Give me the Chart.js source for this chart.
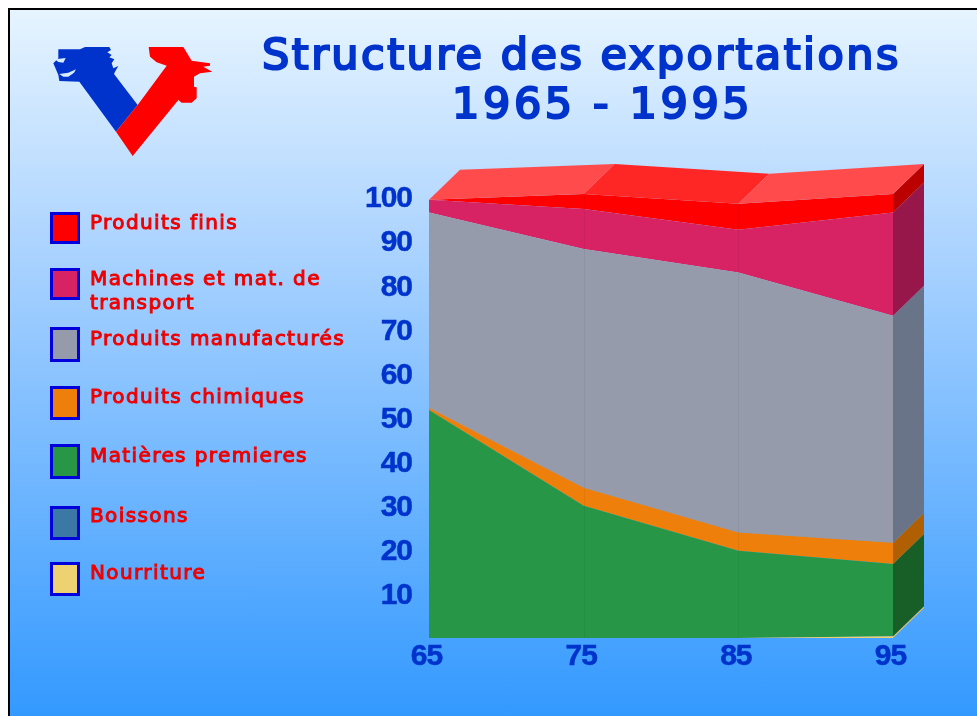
<!DOCTYPE html>
<html>
<head>
<meta charset="utf-8">
<title>Structure des exportations 1965 - 1995</title>
<script src="https://cdn.jsdelivr.net/npm/chart.js@4"></script>
<style>
  html, body { margin: 0; padding: 0; background: #fff; overflow: hidden; }
  #frame {
    position: absolute; left: 8px; top: 8px; width: 969px; height: 708px;
    box-sizing: border-box; border-left: 2px solid #000; border-top: 2px solid #000;
    background: linear-gradient(#e6f4ff, #a9d2ff 35%, #3399ff);
  }
  #chart { position: absolute; left: 0; top: 0; }
  #logo { position: absolute; left: 0; top: 0; }
  .title {
    position: absolute; white-space: nowrap; color: #0033cc;
    font: 400 43px "DejaVu Sans", sans-serif; -webkit-text-stroke: 2.2px #0033cc; line-height: 50px;
    letter-spacing: 2.5px;
  }
  .swatch { position: absolute; left: 50px; width: 30px; box-sizing: border-box; border: 3px solid #0000dd; }
  .label {
    position: absolute; left: 90px; color: #ee0000; white-space: pre-line;
    font: 400 20px/24px "DejaVu Sans", sans-serif; -webkit-text-stroke: 1px #ee0000; letter-spacing: 1.4px;
  }
</style>
</head>
<body>
<div id="frame"></div>
<svg id="logo" width="360" height="240" viewBox="0 0 1080 720">
  <polygon fill="#0033cc" points="175,148 240,148 255,141 328,141 333,150 322,157 335,165 328,172 343,178 335,190 340,205 355,198 345,215 342,222 413,315 348,395 238,245 178,243 175,225 160,190 175,175"/>
  <polygon fill="#d8ebff" points="165,178 197,174 190,188 175,186"/>
  <polygon fill="#d8ebff" points="178,222 205,218 228,208 222,218 205,230 190,230"/>
  <polygon fill="#ff0000" points="413,315 500,197 470,187 450,170 446,141 550,141 575,182 630,190 630,197 610,200 637,215 600,220 582,230 582,260 590,262 590,295 575,308 545,308 535,300 398,468 348,395"/>
</svg>
<canvas id="chart" width="977" height="716"></canvas>
<div class="title" style="left:262px;top:29px">Structure des exportations</div>
<div class="title" style="left:452px;top:78px;letter-spacing:3.6px">1965 - 1995</div>
<div id="legend"></div>

<script>
const years = ["65", "75", "85", "95"];
const yTickValues = [10, 20, 30, 40, 50, 60, 70, 80, 90, 100];

// stacked from the bottom up
const nourriture = [0, 0, 0, 0.4];
const boissons = [0, 0, 0, 0];
const matieres = [51.7, 30, 19.8, 16.4];
const chimiques = [0.5, 4.1, 4.1, 4.8];
const manufactures = [44.3, 54.1, 59, 51.5];
const machines = [2.9, 9.1, 9.7, 23.4];
const finis = [0, 3.4, 5.9, 4.2];

const seriesNames = ["Nourriture", "Boissons", "Matières premieres", "Produits chimiques", "Produits manufacturés", "Machines et mat. de\ntransport", "Produits finis"];
const seriesValues = [nourriture, boissons, matieres, chimiques, manufactures, machines, finis];
const frontColors = ["#eed170", "#3b78a5", "#279646", "#ee7f0b", "#959bab", "#d72263", "#ff0000"];
const sideColors = ["#e0c060", "#2a5675", "#175e27", "#b05f03", "#6a7488", "#97174a", "#bb0000"];
const topColors = ["#ff4b4b", "#ff2626", "#ff4b4b"];

// legend layout, same order as seriesNames
const swatchBoxes = [[562, 34], [506, 34], [444, 35], [386, 34], [327, 35], [268, 32], [212, 32]];
const labelTops = [560, 503, 443, 384, 326, 266, 210];

const depthX = 31, depthY = -30;

const legend = document.getElementById("legend");
seriesNames.forEach((name, i) => {
  const sw = document.createElement("div");
  sw.className = "swatch";
  sw.style.top = swatchBoxes[i][0] + "px";
  sw.style.height = swatchBoxes[i][1] + "px";
  sw.style.background = frontColors[i];
  legend.appendChild(sw);
  const lb = document.createElement("div");
  lb.className = "label";
  lb.style.top = labelTops[i] + "px";
  lb.textContent = name;
  legend.appendChild(lb);
});

// nudge the axis labels and tighten their digits like the original
const tickPlugin = {
  id: "tickNudge",
  beforeDraw(chart) {
    chart.ctx.letterSpacing = "-1px";
    chart.scales.x.getLabelItems().forEach(it => {
      it.options.translation[0] -= 2.5;
      it.options.translation[1] -= 7;
    });
    chart.scales.y.getLabelItems().forEach(it => { it.options.translation[1] += 2; });
  }
};

// 3D look: side wall, top face and the faint dividers, all from the stacked points
const depthPlugin = {
  id: "depth",
  afterDatasetsDraw(chart) {
    const ctx = chart.ctx;
    const base = chart.scales.y.getPixelForValue(0);
    const metas = seriesValues.map((s, i) => chart.getDatasetMeta(i).data);
    const last = years.length - 1;
    const poly = (pts, color) => {
      ctx.fillStyle = color;
      ctx.beginPath();
      pts.forEach((p, i) => i ? ctx.lineTo(p[0], p[1]) : ctx.moveTo(p[0], p[1]));
      ctx.closePath();
      ctx.fill();
    };
    ctx.save();
    metas.forEach((pts, i) => {
      const t = pts[last];
      const b = i ? metas[i - 1][last].y : base;
      if (b - t.y < 0.1) return;
      poly([[t.x, b], [t.x, t.y], [t.x + depthX, t.y + depthY], [t.x + depthX, b + depthY]], sideColors[i]);
    });
    const top = metas[metas.length - 1];
    for (let j = 0; j < last; j++) {
      const a = top[j], c = top[j + 1];
      poly([[a.x, a.y], [a.x + depthX, a.y + depthY], [c.x + depthX, c.y + depthY], [c.x, c.y]], topColors[j]);
    }
    ctx.strokeStyle = "rgba(0,0,0,0.05)";
    ctx.lineWidth = 1;
    for (let j = 1; j < last; j++) {
      ctx.beginPath();
      ctx.moveTo(Math.round(top[j].x) + 0.5, top[j].y);
      ctx.lineTo(Math.round(top[j].x) + 0.5, base);
      ctx.stroke();
    }
    ctx.restore();
  }
};

const tickFont = { family: "'Liberation Sans'", size: 30, weight: "bold" };

new Chart(document.getElementById("chart"), {
  type: "line",
  data: {
    labels: years,
    datasets: seriesNames.map((name, i) => ({
      label: name,
      data: seriesValues[i],
      backgroundColor: frontColors[i],
      borderWidth: 0,
      pointRadius: 0,
      tension: 0,
      fill: i ? "-1" : "origin"
    }))
  },
  options: {
    responsive: false,
    animation: false,
    layout: { padding: { top: 153, right: 84, left: 0, bottom: 0 } },
    plugins: { legend: { display: false }, tooltip: { enabled: false } },
    scales: {
      x: {
        offset: false,
        grid: { display: false },
        border: { display: false },
        ticks: { color: "#0033cc", font: tickFont, textStrokeColor: "#0033cc", textStrokeWidth: 0.5, padding: 0, maxRotation: 0 },
        afterFit(s) { s.height = 78; s.paddingLeft = 0; s.paddingRight = 0; }
      },
      y: {
        stacked: true,
        min: 0,
        max: 110,
        grid: { display: false },
        border: { display: false },
        afterBuildTicks(s) { s.ticks = yTickValues.map(v => ({ value: v })); },
        ticks: { color: "#0033cc", font: tickFont, textStrokeColor: "#0033cc", textStrokeWidth: 0.5, padding: 9 },
        afterFit(s) { s.width = 429; }
      }
    }
  },
  plugins: [tickPlugin, depthPlugin]
});
</script>
</body>
</html>
